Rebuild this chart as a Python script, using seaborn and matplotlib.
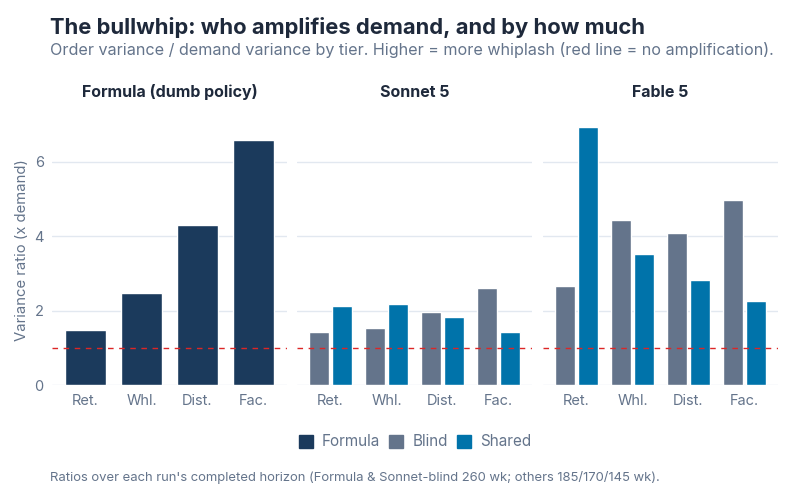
import matplotlib
matplotlib.use('Agg')

import matplotlib.pyplot as plt
import matplotlib.patches as mpatches
import pandas as pd
import seaborn as sns


tiers = ['Ret.', 'Whl.', 'Dist.', 'Fac.']
formula = [1.48, 2.48, 4.30, 6.58]
sonnet_blind = [1.43, 1.54, 1.97, 2.61]
sonnet_shared = [2.13, 2.18, 1.83, 1.43]
fable_blind = [2.66, 4.43, 4.08, 4.97]
fable_shared = [6.93, 3.52, 2.83, 2.26]

panel_titles = ['Formula (dumb policy)', 'Sonnet 5', 'Fable 5']
series_names = ['Formula', 'Blind', 'Shared']
colors = {'Formula': '#1b3a5c', 'Blind': '#64748b', 'Shared': '#0073aa'}

TEXT = '#1e293b'
MUTED = '#64748b'
GRID = '#e2e8f0'

sns.set_theme(style='white')
plt.rcParams['font.family'] = ['Inter', 'DejaVu Sans']

fig = plt.figure(figsize=(8, 5), dpi=100)

W, H = 800, 500
y0_px, top_px = 385.3, 114.0
ymax = 7.28
lefts = [52, 297, 543]
pw = 235

formula_df = pd.DataFrame({'tier': tiers, 'ratio': formula, 'series': 'Formula'})
sonnet_df = pd.concat([
    pd.DataFrame({'tier': tiers, 'ratio': sonnet_blind, 'series': 'Blind'}),
    pd.DataFrame({'tier': tiers, 'ratio': sonnet_shared, 'series': 'Shared'}),
])
fable_df = pd.concat([
    pd.DataFrame({'tier': tiers, 'ratio': fable_blind, 'series': 'Blind'}),
    pd.DataFrame({'tier': tiers, 'ratio': fable_shared, 'series': 'Shared'}),
])

axes = []
for i, left in enumerate(lefts):
    ax = fig.add_axes([left / W, (H - y0_px) / H, pw / W, (y0_px - top_px) / H])
    axes.append(ax)

sns.barplot(data=formula_df, x='tier', y='ratio', color=colors['Formula'],
            width=0.72, saturation=1, ax=axes[0], order=tiers)
for ax, df in [(axes[1], sonnet_df), (axes[2], fable_df)]:
    sns.barplot(data=df, x='tier', y='ratio', hue='series', palette=colors,
                hue_order=['Blind', 'Shared'], width=0.8, gap=0.1,
                saturation=1, ax=ax, order=tiers, legend=False)

for i, ax in enumerate(axes):
    ax.set_xlim(-0.6, 3.6)
    ax.set_ylim(0, ymax)
    ax.set_yticks([0, 2, 4, 6])
    ax.grid(axis='y', color=GRID, linewidth=1)
    ax.set_axisbelow(True)
    for s in ax.spines.values():
        s.set_visible(False)
    ax.axhline(1.0, color='#dc2626', linestyle=(0, (4, 4)), linewidth=1)
    ax.tick_params(axis='both', length=0, colors=MUTED, labelsize=10.5, pad=6)
    ax.set_xlabel('')
    ax.set_ylabel('')
    if i > 0:
        ax.set_yticklabels([])
    ax.set_title(panel_titles[i], fontsize=11.5, fontweight='bold', color=TEXT, pad=12)

axes[0].set_ylabel('Variance ratio (x demand)', fontsize=10.7, color=MUTED, labelpad=4)

fig.text(50 / W, 1 - 28 / H, 'The bullwhip: who amplifies demand, and by how much',
         fontsize=15.8, fontweight='bold', color=TEXT, va='center')
fig.text(50 / W, 1 - 50 / H,
         'Order variance / demand variance by tier. Higher = more whiplash (red line = no amplification).',
         fontsize=11.6, color=MUTED, va='center')

handles = [mpatches.Patch(color=colors[s], label=s) for s in series_names]
fig.legend(handles=handles, loc='center', bbox_to_anchor=(415 / W, 1 - 442 / H), ncol=3,
           frameon=False, fontsize=11, labelcolor=MUTED, handlelength=0.9, handleheight=0.9,
           handletextpad=0.6, columnspacing=0.6)

fig.text(50 / W, 1 - 478 / H,
         "Ratios over each run's completed horizon (Formula & Sonnet-blind 260 wk; others 185/170/145 wk).",
         fontsize=9.4, color=MUTED, va='center')

fig.savefig('out.png', dpi=100)
